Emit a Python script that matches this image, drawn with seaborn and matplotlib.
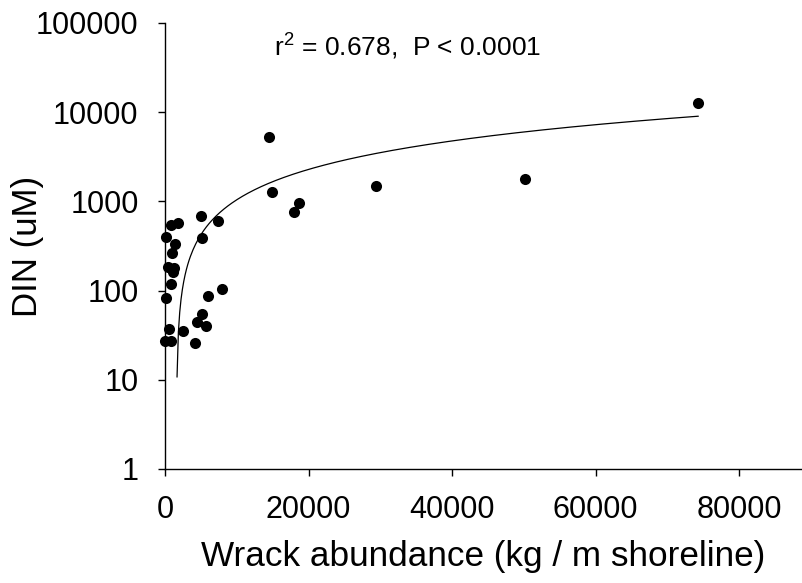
import numpy as np
import pandas as pd
import matplotlib
matplotlib.use("Agg")
import matplotlib.pyplot as plt
import seaborn as sns
from matplotlib.ticker import FixedLocator, FixedFormatter, NullLocator

# Wrack abundance (kg / m shoreline)
wrack = [14500, 14950, 18700, 18000, 29400, 50200, 74300,
         5000, 1850, 840, 7350, 100, 5100, 1390, 930, 460, 1300, 1160,
         840, 100, 7900, 6030, 5100, 4420, 5710, 600, 2550, 0, 800, 4180]
# DIN (uM)
din = [5230, 1265, 952, 755, 1490, 1780, 12800,
       691, 577, 544, 603, 402, 386, 336, 266, 185, 178, 160,
       118, 82, 103, 88, 55, 44, 40, 37, 35, 27, 27, 26]

x_ticks = [0, 20000, 40000, 60000, 80000]
x_tick_labels = ["0", "20000", "40000", "60000", "80000"]
y_ticks = [1, 10, 100, 1000, 10000, 100000]
y_tick_labels = ["1", "10", "100", "1000", "10000", "100000"]
annotation = "$r^2$ = 0.678,  P < 0.0001"

sns.set_theme(style="ticks")
plt.rcParams["font.family"] = ["Liberation Sans", "DejaVu Sans"]
plt.rcParams["mathtext.default"] = "regular"

df = pd.DataFrame({"wrack": wrack, "din": din})

# linear regression, drawn over the data range where it is positive
b, a = np.polyfit(df["wrack"], df["din"], 1)
xs = np.linspace(0, df["wrack"].max(), 400)
ys = a + b * xs
fit = pd.DataFrame({"x": xs[ys > 0], "y": ys[ys > 0]})

fig = plt.figure(figsize=(8.02, 5.83), dpi=100)
ax = fig.add_axes([165 / 802, 114 / 583, 636 / 802, 446 / 583])

sns.lineplot(data=fit, x="x", y="y", ax=ax, color="black", linewidth=0.9,
             estimator=None, sort=True)
sns.scatterplot(data=df, x="wrack", y="din", ax=ax, color="black", s=64,
                edgecolor="black", linewidth=0, zorder=3, clip_on=False)

ax.set_yscale("log")
ax.set_xlim(0, 88600)
ax.set_ylim(1, 100000)
ax.xaxis.set_major_locator(FixedLocator(x_ticks))
ax.xaxis.set_major_formatter(FixedFormatter(x_tick_labels))
ax.yaxis.set_major_locator(FixedLocator(y_ticks))
ax.yaxis.set_major_formatter(FixedFormatter(y_tick_labels))
ax.yaxis.set_minor_locator(NullLocator())
ax.xaxis.set_minor_locator(NullLocator())

for side in ["top", "right"]:
    ax.spines[side].set_visible(False)
for side in ["left", "bottom"]:
    ax.spines[side].set_linewidth(1.0)
    ax.spines[side].set_color("black")

ax.tick_params(axis="both", which="major", direction="out", length=5,
               width=1.0, color="black", labelsize=22, labelcolor="black",
               pad=14)

ax.set_xlabel("Wrack abundance (kg / m shoreline)", fontsize=25.3, color="black")
ax.set_ylabel("DIN (uM)", fontsize=25, color="black")
ax.xaxis.set_label_coords(0.5, -0.16)
ax.yaxis.set_label_coords(-0.19, 0.5)

ax.text(0.382, 0.946, annotation, transform=ax.transAxes, ha="center",
        va="center", fontsize=19, color="black")

fig.savefig("out.png", dpi=100)
